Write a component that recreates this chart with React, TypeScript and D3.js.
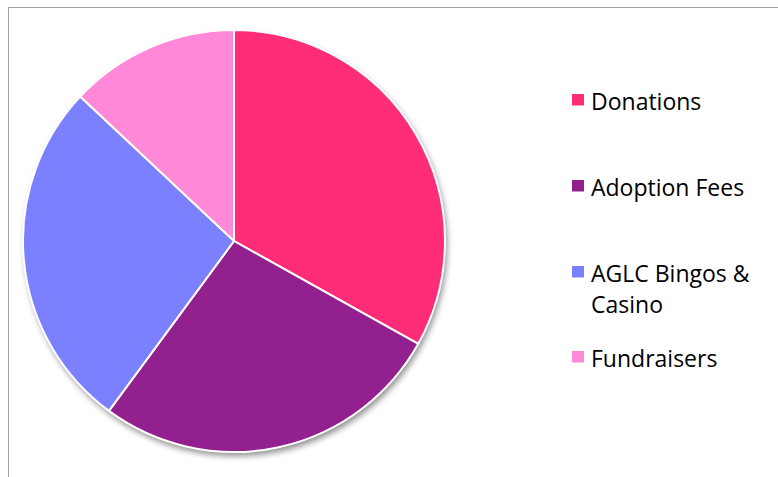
import React from "react";
import * as d3 from "d3";

const categories = ["Donations", "Adoption Fees", "AGLC Bingos & Casino", "Fundraisers"];
const legendLines = [["Donations"], ["Adoption Fees"], ["AGLC Bingos &", "Casino"], ["Fundraisers"]];
const values = [33.1, 27.0, 26.9, 13.0];
const colors = ["#FF2D78", "#93208F", "#7B80FF", "#FF88D8"];

const W = 778, H = 477;
const cx = 234, cy = 241, R = 211;
const legendBaseline = [110, 196, 282, 367];

export default function App() {
  const pie = d3.pie<number>().sort(null).value((d) => d);
  const arcs = pie(values);
  const arc = d3.arc<d3.PieArcDatum<number>>().innerRadius(0).outerRadius(R);
  return (
    <svg width={W} height={H} style={{ position: "absolute", left: 0, top: 0, background: "#fff" }}>
      <defs>
        <filter id="sh" x="-20%" y="-20%" width="140%" height="140%">
          <feGaussianBlur in="SourceAlpha" stdDeviation="3" />
          <feOffset dx="2" dy="4" result="b" />
          <feComponentTransfer><feFuncA type="linear" slope="0.45" /></feComponentTransfer>
          <feMerge><feMergeNode /><feMergeNode in="SourceGraphic" /></feMerge>
        </filter>
      </defs>
      <rect x={8.5} y={7.5} width={W} height={H} fill="#fff" stroke="#a0a0a0" strokeWidth={1} />
      <g transform={`translate(${cx},${cy})`}>
        <circle r={R} fill="#fff" filter="url(#sh)" />
        {arcs.map((a, i) => (
          <path key={categories[i]} d={arc(a) || ""} fill={colors[i]} stroke="#fff" strokeWidth={2} strokeLinejoin="round" />
        ))}
      </g>
      <g fontFamily="'Open Sans', sans-serif" fontSize={23} fill="#000">
        {categories.map((c, i) => (
          <g key={c}>
            <rect x={572} y={legendBaseline[i] - 16} width={12} height={11.5} fill={colors[i]} />
            {legendLines[i].map((l, j) => (
              <text key={j} x={591} y={legendBaseline[i] + j * 31}>{l}</text>
            ))}
          </g>
        ))}
      </g>
    </svg>
  );
}
